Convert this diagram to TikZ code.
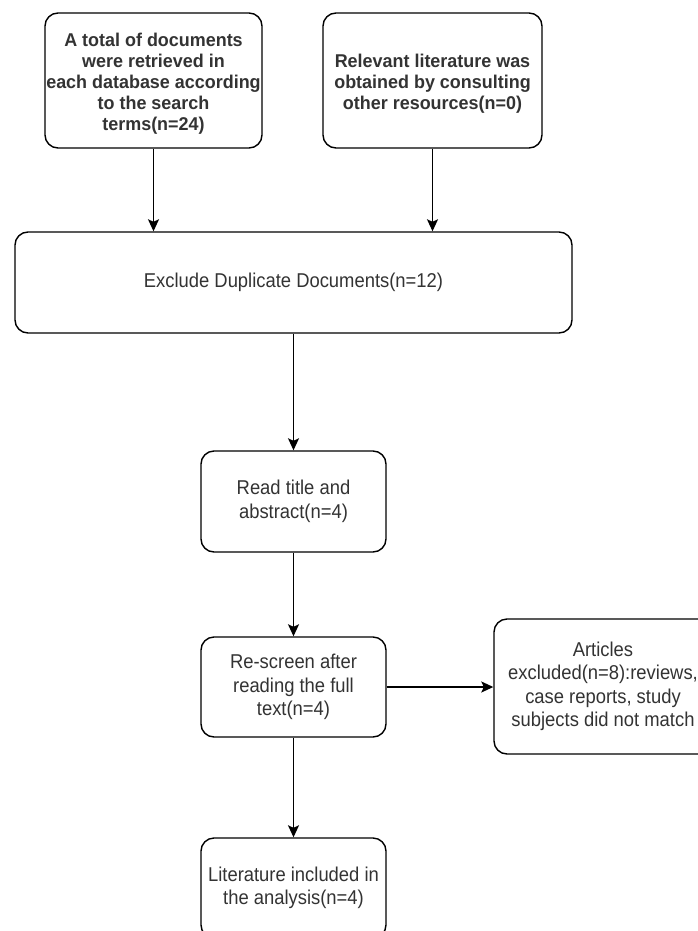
\documentclass[tikz,border=0pt]{standalone}
\usepackage{fontspec}
\usetikzlibrary{arrows.meta}
\newfontfamily\regfont[FakeStretch=0.92]{Liberation Sans}
\newfontfamily\topfont[FakeStretch=0.97]{Liberation Sans}
\definecolor{txtgray}{HTML}{333333}
\tikzset{
  box/.style={draw=black, line width=1.4pt, rounded corners=13pt, fill=white, inner sep=0pt},
  regtxt/.style={align=center, text=txtgray, font=\regfont\fontsize{20}{23.5}\selectfont},
  toptxt/.style={align=center, text=txtgray, font=\topfont\bfseries\fontsize{18.5}{21}\selectfont},
  conn/.style={draw=black, line width=1.4pt, -{Stealth[length=12pt,width=11pt,inset=2.5pt]}}
}
\begin{document}
\begin{tikzpicture}[x=1pt,y=-1pt]
\useasboundingbox (0,0) rectangle (698,931);
\clip (0,0) rectangle (698,931);
\fill[white] (0,0) rectangle (698,931);
% boxes
\node[box, minimum width=217pt, minimum height=135pt] (b1) at (153.5,80.5) {};
\node[toptxt] (t1) at (153.5,83.5) {A total of documents\\were retrieved in\\each database according\\to the search\\terms(n=24)};
\node[box, minimum width=219pt, minimum height=135pt] (b2) at (432.5,80.5) {};
\node[toptxt] (t2) at (432.5,84) {Relevant literature was\\obtained by consulting\\other resources(n=0)};
\node[box, regtxt, minimum width=557pt, minimum height=101pt] (excl) at (293.5,282.5) {Exclude Duplicate Documents(n=12)};
\node[box, regtxt, minimum width=185pt, minimum height=101pt] (read) at (293.5,501.5) {Read title and\\abstract(n=4)};
\node[box, regtxt, minimum width=185pt, minimum height=100pt] (resc) at (293.5,687) {Re-screen after\\reading the full\\text(n=4)};
\node[box, regtxt, minimum width=218pt, minimum height=135pt] (art) at (603,686.5) {Articles\\excluded(n=8):reviews,\\case reports, study\\subjects did not match};
\node[box, regtxt, minimum width=185pt, minimum height=100pt] (lit) at (293.5,888) {Literature included in\\the analysis(n=4)};
% connectors
\draw[conn] (b1.south) -- (b1.south |- excl.north);
\draw[conn] (b2.south) -- (b2.south |- excl.north);
\draw[conn] (excl.south) -- (read.north);
\draw[conn] (read.south) -- (resc.north);
\draw[conn] (resc.south) -- (lit.north);
\draw[conn] (resc.east) -- (art.west |- resc.east);
\end{tikzpicture}
\end{document}
